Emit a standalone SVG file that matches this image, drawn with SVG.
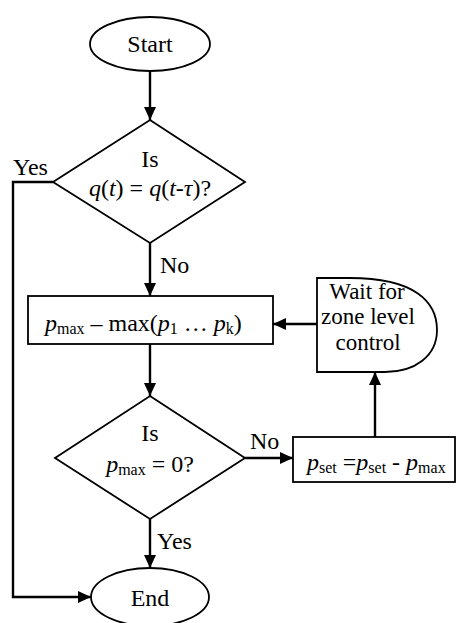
<svg xmlns="http://www.w3.org/2000/svg" width="457" height="623" viewBox="0 0 457 623">
<defs>
<marker id="ah" markerUnits="userSpaceOnUse" markerWidth="14" markerHeight="12" refX="13" refY="6" orient="auto">
<path d="M0,0 L13,6 L0,12 Z" fill="#000"/>
</marker>
<style>
.s{fill:#fff;stroke:#000;stroke-width:1.8}
.c{fill:none;stroke:#000;stroke-width:2.4}
text{font-family:"Liberation Serif","Times New Roman",serif;font-size:24px;fill:#000}
.i{font-style:italic}
.sub{font-size:16px}
.w{font-size:23px}
</style>
</defs>
<rect width="457" height="623" fill="#fff"/>
<g id="connectors">
<line class="c" x1="150" y1="72" x2="150" y2="120" marker-end="url(#ah)"/>
<line class="c" x1="150" y1="243" x2="150" y2="296" marker-end="url(#ah)"/>
<line class="c" x1="150" y1="344" x2="150" y2="396" marker-end="url(#ah)"/>
<line class="c" x1="150" y1="519" x2="150" y2="568" marker-end="url(#ah)"/>
<polyline class="c" points="53,182 13,182 13,597 91,597" marker-end="url(#ah)"/>
<line class="c" x1="245" y1="458" x2="293" y2="458" marker-end="url(#ah)"/>
<line class="c" x1="375" y1="437" x2="375" y2="372" stroke-width="1.6" marker-end="url(#ah)"/>
<line class="c" x1="317" y1="324" x2="273" y2="324" marker-end="url(#ah)"/>
<text x="13" y="175">Yes</text>
<text x="160" y="273">No</text>
<text x="250" y="449">No</text>
<text x="157" y="549">Yes</text>
</g>
<g id="start">
<ellipse class="s" cx="150" cy="44" rx="60" ry="27"/>
<text x="150" y="52" text-anchor="middle">Start</text>
</g>
<g id="decision1">
<polygon class="s" points="150,120 245,182 150,243 53,182"/>
<text x="150" y="167" text-anchor="middle">Is</text>
<text x="150" y="196" text-anchor="middle"><tspan class="i">q</tspan>(<tspan class="i">t</tspan>) = <tspan class="i">q</tspan>(<tspan class="i">t</tspan>-<tspan class="i">τ</tspan>)?</text>
</g>
<g id="compute">
<rect class="s" x="28" y="296" width="245" height="48"/>
<text x="45" y="331"><tspan class="i">p</tspan><tspan class="sub" dy="3">max</tspan><tspan dy="-3"> – max(</tspan><tspan class="i">p</tspan><tspan class="sub" dy="3">1</tspan><tspan dy="-3"> … </tspan><tspan class="i">p</tspan><tspan class="sub" dy="3">k</tspan><tspan dy="-3">)</tspan></text>
</g>
<g id="decision2">
<polygon class="s" points="150,396 245,458 150,519 55,458"/>
<text x="150" y="441" text-anchor="middle">Is</text>
<text x="150" y="472" text-anchor="middle"><tspan class="i">p</tspan><tspan class="sub" dy="3">max</tspan><tspan dy="-3"> = 0?</tspan></text>
</g>
<g id="update">
<rect class="s" x="293" y="437" width="162" height="45"/>
<text x="307" y="470"><tspan class="i">p</tspan><tspan class="sub" dy="3">set</tspan><tspan dy="-3"> =</tspan><tspan class="i">p</tspan><tspan class="sub" dy="3">set</tspan><tspan dy="-3"> - </tspan><tspan class="i">p</tspan><tspan class="sub" dy="3">max</tspan></text>
</g>
<g id="wait">
<path class="s" d="M317,278 H350 C415,278 437,302 437,330 C437,356 415,372 385,372 H317 Z"/>
<text class="w" x="367" y="299" text-anchor="middle">Wait for</text>
<text class="w" x="368" y="324" text-anchor="middle">zone level</text>
<text class="w" x="368" y="350" text-anchor="middle">control</text>
</g>
<g id="end">
<ellipse class="s" cx="150" cy="597" rx="59" ry="29"/>
<text x="150" y="606" text-anchor="middle">End</text>
</g>
</svg>
